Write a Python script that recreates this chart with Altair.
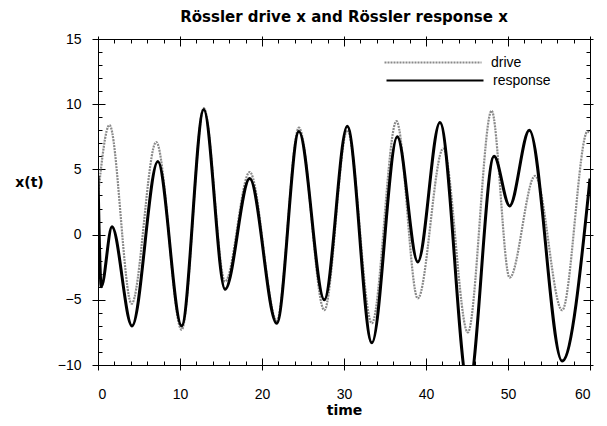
import altair as alt
import pandas as pd

# ---- data ----
drive_t = [0, 1.4, 4.1, 7.1, 10.2, 12.9, 15.5, 18.5, 21.8, 24.5, 27.6, 30.4,
           33.4, 36.4, 39.0, 42.1, 45.1, 48.0, 50.2, 53.3, 56.6, 59.7, 60]
drive_x = [3.0, 8.4, -5.3, 7.1, -7.3, 9.7, -3.6, 4.8, -6.6, 8.2, -5.8, 8.0,
           -6.8, 8.7, -4.9, 6.6, -7.5, 9.5, -3.3, 4.5, -5.8, 7.9, 7.8]

resp_t = [0, 0.4, 1.7, 4.15, 7.3, 10.2, 12.9, 15.5, 18.5, 21.8, 24.5, 27.6,
          30.4, 33.4, 36.5, 39.0, 41.7, 45.2, 48.3, 50.2, 52.6, 56.6, 60]
resp_x = [4.5, -4.0, 0.6, -7.0, 5.6, -7.0, 9.6, -4.2, 4.3, -6.8, 7.9, -5.0,
          8.3, -8.3, 7.5, -2.1, 8.6, -11.8, 6.0, 2.2, 8.0, -9.7, 4.3]

x_major = [0, 10, 20, 30, 40, 50, 60]
x_minor = list(range(0, 61, 2))
y_major = [-10, -5, 0, 5, 10, 15]
y_minor = list(range(-10, 16))

W, H = 492, 326
FONT = "Liberation Sans"
BOLD = "DejaVu Sans"

drive_df = pd.DataFrame({"t": drive_t, "x": drive_x, "series": ["drive"] * len(drive_t)})
resp_df = pd.DataFrame({"t": resp_t, "x": resp_x, "series": ["response"] * len(resp_t)})

xs = alt.Scale(domain=[0, 60], nice=False, zero=False)
ys = alt.Scale(domain=[-10, 15], nice=False, zero=False)


def tick_axis(orient, values, size, offset=0):
    kw = dict(orient=orient, values=values, tickSize=size, labels=False,
              domain=False, grid=False, title=None, tickColor="black")
    if offset:
        kw["offset"] = offset
    return alt.Axis(**kw)


drive = alt.Chart(drive_df).mark_line(
    interpolate="monotone", strokeWidth=2.2, strokeDash=[2, 1], clip=True
).encode(
    x=alt.X("t:Q", scale=xs, axis=alt.Axis(
        orient="bottom", values=x_major, tickSize=5, labelPadding=17,
        domain=False, grid=False, title="time", titleFont=BOLD,
        titleFontSize=14, titleFontWeight="bold", titleY=49,
        titleBaseline="alphabetic")),
    y=alt.Y("x:Q", scale=ys, axis=alt.Axis(
        orient="left", values=y_major, tickSize=6, labelPadding=11,
        domain=False, grid=False, title="x(t)", titleFont=BOLD,
        titleFontSize=14, titleFontWeight="bold", titleAngle=0,
        titleX=-69, titleY=143, titleAlign="center", titleBaseline="middle")),
    color=alt.Color("series:N", scale=alt.Scale(domain=["drive"], range=["#8a8a8a"]),
                    legend=alt.Legend(orient="none", legendX=285, legendY=-26.5,
                                      symbolType="stroke", symbolSize=9409,
                                      symbolStrokeWidth=2.2, symbolDash=[2, 1],
                                      title=None, labelFont=FONT, labelFontSize=14,
                                      labelOffset=8, padding=0)),
)

response = alt.Chart(resp_df).mark_line(
    interpolate="monotone", strokeWidth=3, clip=True
).encode(
    x=alt.X("t:Q", scale=xs, axis=tick_axis("top", x_major, 3)),
    y=alt.Y("x:Q", scale=ys, axis=tick_axis("right", y_major, 3)),
    color=alt.Color("series:N", scale=alt.Scale(domain=["response"], range=["black"]),
                    legend=alt.Legend(orient="none", legendX=287, legendY=-8.5,
                                      symbolType="stroke", symbolSize=9409,
                                      symbolStrokeWidth=2.2,
                                      title=None, labelFont=FONT, labelFontSize=14,
                                      labelOffset=8, padding=0)),
)


def ghost(xaxis, yaxis):
    return alt.Chart(drive_df).mark_point(opacity=0).encode(
        x=alt.X("t:Q", scale=xs, axis=xaxis),
        y=alt.Y("x:Q", scale=ys, axis=yaxis),
    )


g1 = ghost(tick_axis("top", x_minor, 4, -H), tick_axis("right", y_minor, 4, -W))
g2 = ghost(tick_axis("bottom", x_minor, 4, -H), tick_axis("left", y_minor, 4, -W))
g3 = ghost(tick_axis("top", x_major, 7, -H), tick_axis("right", y_major, 7, -W))
g4 = ghost(tick_axis("bottom", x_major, 7, -H), tick_axis("left", y_major, 7, -W))

chart = alt.layer(drive, response, g1, g2, g3, g4).resolve_scale(
    color="independent"
).resolve_axis(
    x="independent", y="independent"
).properties(
    width=W, height=H,
    autosize="none",
    padding={"left": 90, "top": 31, "right": 9, "bottom": 53},
    title=alt.TitleParams("Rössler drive x and Rössler response x", font=BOLD,
                          fontSize=15, fontWeight="bold", anchor="middle",
                          frame="group", baseline="alphabetic", offset=-24.5,
                          color="black"),
).configure_view(
    stroke="black", strokeWidth=1
).configure_axis(
    labelFont=FONT, labelFontSize=14, labelColor="black", tickColor="black",
    tickWidth=1
)

chart.save("out.html", embed_options={"renderer": "svg", "actions": False})
